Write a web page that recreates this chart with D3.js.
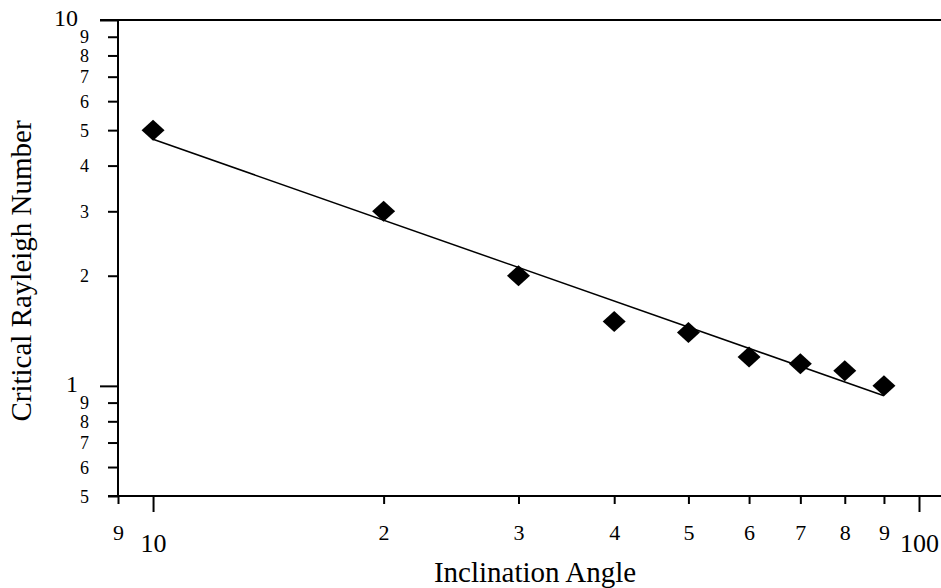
<!DOCTYPE html>
<html>
<head>
<meta charset="utf-8">
<script src="https://cdn.jsdelivr.net/npm/d3@7"></script>
<style>
  body { margin: 0; background: #fff; }
  text { font-family: "Liberation Serif", "Times New Roman", serif; fill: #000; }
</style>
</head>
<body>
<div id="chart"></div>
<script>
// measured points (inclination angle vs critical Rayleigh number)
const angles = [10, 20, 30, 40, 50, 60, 70, 80, 90];
const rayleigh = [5.0, 3.0, 2.0, 1.5, 1.4, 1.2, 1.15, 1.1, 1.0];

// power-law fit, straight in log-log, given by its two ends
const fitAngles = [10, 90];
const fitValues = [4.72, 0.94];

const xTickValues = [9, 10, 20, 30, 40, 50, 60, 70, 80, 90, 100];
const xMajor = [10, 100];
const yTickValues = [0.5, 0.6, 0.7, 0.8, 0.9, 1, 2, 3, 4, 5, 6, 7, 8, 9, 10];
const yMajor = [1, 10];

const W = 941, H = 588;
const marg = {top: 20, left: 118, bottom: 92};

const svg = d3.select("#chart").append("svg")
  .attr("width", W)
  .attr("height", H);

const x = d3.scaleLog().domain([9, 100]).range([118, 919]);
const y = d3.scaleLog().domain([0.5, 10]).range([H - marg.bottom, marg.top]);
const y0 = H - marg.bottom;

// leading digit of the number, e.g. 30 -> "3", 0.7 -> "7"
const digit = d => {
  let v = d;
  while (v >= 10) v /= 10;
  while (v < 1) v *= 10;
  return String(Math.round(v));
};

// x axis
const gx = svg.append("g")
  .attr("transform", `translate(0,${y0})`)
  .call(d3.axisBottom(x).tickValues(xTickValues).tickFormat(d => xMajor.includes(d) ? String(d) : digit(d)).tickSizeOuter(0));
gx.select(".domain").remove();
gx.selectAll(".tick line")
  .attr("stroke-width", 2)
  .attr("y2", d => xMajor.includes(d) ? 16 : 8);
gx.selectAll(".tick text")
  .attr("y", d => xMajor.includes(d) ? 56 : 44)
  .attr("dy", 0)
  .style("font-size", d => xMajor.includes(d) ? "26px" : "22px")
  .style("font-family", "Liberation Serif");
svg.append("line")
  .attr("x1", 108).attr("x2", W)
  .attr("y1", y0).attr("y2", y0)
  .attr("stroke", "#000").attr("stroke-width", 2);

// y axis
const gy = svg.append("g")
  .attr("transform", `translate(${marg.left},0)`)
  .call(d3.axisLeft(y).tickValues(yTickValues).tickFormat(d => yMajor.includes(d) ? String(d) : digit(d)).tickSizeOuter(0));
gy.select(".domain").remove();
gy.selectAll(".tick line")
  .attr("stroke-width", 2)
  .attr("x2", d => yMajor.includes(d) ? -18 : -10);
gy.selectAll(".tick text")
  .attr("x", d => yMajor.includes(d) ? -40 : -29)
  .attr("y", d => yMajor.includes(d) ? -3 : 0)
  .attr("dy", "0.34em")
  .style("font-size", d => yMajor.includes(d) ? "24px" : "18px")
  .style("font-family", "Liberation Serif");
svg.append("line")
  .attr("x1", marg.left).attr("x2", marg.left)
  .attr("y1", marg.top).attr("y2", y0)
  .attr("stroke", "#000").attr("stroke-width", 2);

// top frame line
svg.append("line")
  .attr("x1", 100).attr("x2", W)
  .attr("y1", y(10)).attr("y2", y(10))
  .attr("stroke", "#000").attr("stroke-width", 2);

// fit line
const fit = fitAngles.map((a, i) => ({a: a, v: fitValues[i]}));
svg.append("path")
  .datum(fit)
  .attr("fill", "none")
  .attr("stroke", "#000")
  .attr("stroke-width", 1.5)
  .attr("d", d3.line().x(d => x(d.a)).y(d => y(d.v)));

// diamonds
const pts = angles.map((a, i) => ({a: a, v: rayleigh[i]}));
svg.selectAll(".pt")
  .data(pts)
  .join("path")
  .attr("class", "pt")
  .attr("transform", d => `translate(${x(d.a)},${y(d.v)})`)
  .attr("d", "M0,-10.5L11.5,0L0,10.5L-11.5,0Z")
  .attr("fill", "#000");

// axis titles
svg.append("text")
  .attr("x", 535)
  .attr("y", 582)
  .attr("text-anchor", "middle")
  .style("font-size", "29px")
  .text("Inclination Angle");

svg.append("text")
  .attr("transform", "translate(31,271) rotate(-90)")
  .attr("text-anchor", "middle")
  .style("font-size", "29px")
  .text("Critical Rayleigh Number");
</script>
</body>
</html>
